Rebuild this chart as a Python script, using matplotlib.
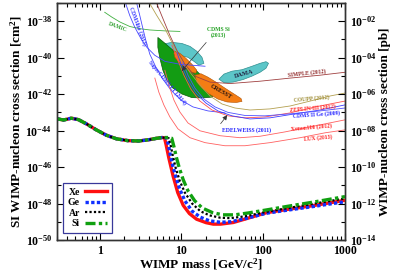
import numpy as np
import matplotlib
matplotlib.use('Agg')
import matplotlib.pyplot as plt
from matplotlib.ticker import FixedLocator, NullFormatter, LogLocator

plt.rcParams['font.family'] = ['Liberation Serif', 'DejaVu Serif']
plt.rcParams['font.weight'] = 'bold'
plt.rcParams['axes.labelweight'] = 'bold'
plt.rcParams['mathtext.fontset'] = 'custom'
plt.rcParams['mathtext.rm'] = 'Liberation Serif:bold'
plt.rcParams['mathtext.it'] = 'Liberation Serif:italic:bold'
plt.rcParams['mathtext.bf'] = 'Liberation Serif:bold'
plt.rcParams['mathtext.default'] = 'rm'

# neutrino discovery limits (mass in GeV, log10 cross section in cm^2)
xe_m = [0.3, 0.36, 0.45, 0.55, 0.7, 0.9, 1.2, 1.6, 2.2, 3.0, 4.0, 5.0, 5.8, 6.2, 6.5, 7.0, 7.9, 9.0,
        10.5, 12.5, 15.3, 20, 24.5, 30, 43, 60, 110, 200, 400, 1000]
xe_s = [-43.35, -43.42, -43.32, -43.4, -43.65, -43.95, -44.25, -44.45, -44.55, -44.57, -44.5, -44.42,
        -44.38, -44.4, -44.8, -45.5, -46.5, -47.4, -48.1, -48.55, -48.86, -49.05, -49.13, -49.13,
        -49.04, -48.85, -48.5, -48.32, -48.12, -47.82]
ge_m = [0.3, 0.36, 0.45, 0.55, 0.7, 0.9, 1.2, 1.6, 2.2, 3.0, 4.0, 5.0, 5.8, 6.6, 6.9, 7.3, 7.9, 8.6,
        9.5, 11, 13.5, 17, 22, 30, 40, 60, 110, 200, 400, 1000]
ge_s = [-43.35, -43.42, -43.32, -43.4, -43.65, -43.95, -44.25, -44.45, -44.55, -44.57, -44.5, -44.42,
        -44.38, -44.4, -44.75, -45.35, -46.0, -46.6, -47.2, -47.85, -48.42, -48.75, -48.95, -49.03,
        -49.0, -48.83, -48.53, -48.36, -48.17, -47.9]
ar_m = [0.3, 0.36, 0.45, 0.55, 0.7, 0.9, 1.2, 1.6, 2.2, 3.0, 4.0, 5.0, 5.8, 7.0, 7.4, 7.9, 8.5, 9.5,
        11, 13.5, 17, 22, 30, 40, 60, 110, 200, 400, 1000]
ar_s = [-43.35, -43.42, -43.32, -43.4, -43.65, -43.95, -44.25, -44.45, -44.55, -44.57, -44.5, -44.42,
        -44.38, -44.42, -44.85, -45.45, -46.05, -46.75, -47.4, -48.0, -48.42, -48.65, -48.78, -48.8,
        -48.7, -48.45, -48.25, -48.02, -47.72]
si_m = [0.3, 0.36, 0.45, 0.55, 0.7, 0.9, 1.2, 1.6, 2.2, 3.0, 4.0, 5.0, 5.8, 7.0, 7.6, 8.1, 8.7, 9.4,
        10.5, 12, 14.5, 18, 24, 32, 45, 65, 110, 200, 400, 1000]
si_s = [-43.35, -43.42, -43.32, -43.4, -43.65, -43.95, -44.25, -44.45, -44.55, -44.57, -44.5, -44.42,
        -44.38, -44.38, -44.42, -44.9, -45.5, -46.05, -46.7, -47.3, -47.85, -48.25, -48.5, -48.62,
        -48.62, -48.52, -48.35, -48.15, -47.93, -47.62]

# experimental limits
damic_m = [1.15, 1.40, 1.76, 2.33, 3.09, 4.10, 6.26, 9.56]
damic_s = [-37.51, -37.77, -38.04, -38.29, -38.41, -38.48, -38.53, -38.56]
cdmslite_m = [2.08, 2.33, 2.69, 3.18, 3.77, 4.72, 6.26, 9.56, 19.4]
cdmslite_s = [-37.04, -37.69, -38.34, -38.94, -39.43, -39.87, -40.20, -40.36, -40.47]
scdms_m = [2.84, 3.09, 3.37, 3.66, 4.10, 4.86, 5.92, 7.42, 9.83, 13.8, 21.1, 34.0]
scdms_s = [-37.04, -37.69, -38.40, -39.05, -39.81, -40.52, -41.18, -41.78, -42.32, -42.70, -42.92, -43.03]
coupp_m = [4.10, 4.99, 6.26, 7.63, 9.56, 12.7, 16.8, 22.3, 31.3, 45.1, 68.9, 121, 213, 375, 659, 1000]
coupp_s = [-37.04, -37.69, -38.40, -39.16, -39.98, -40.80, -41.50, -42.10, -42.54, -42.76, -42.87,
           -42.81, -42.65, -42.38, -42.10, -41.94]
simple_m = [4.99, 5.92, 7.21, 8.78, 11.0, 14.6, 22.3, 39.2, 91.4, 213, 497, 1000]
simple_s = [-37.04, -37.85, -38.78, -39.60, -40.36, -41.01, -41.34, -41.42, -41.29, -41.12, -40.96, -40.80]
zeplin_m = [7.63, 9.03, 10.7, 13.0, 16.8, 23.6, 37.0, 59.8, 105, 213, 431, 1000]
zeplin_s = [-39.32, -40.14, -40.96, -41.72, -42.38, -42.87, -43.19, -43.30, -43.25, -43.03, -42.70, -42.38]
cdmsge_m = [8.78, 10.1, 12.0, 15.0, 19.9, 27.9, 41.5, 68.9, 121, 245, 497, 1000]
cdmsge_s = [-39.71, -40.47, -41.23, -41.94, -42.49, -42.92, -43.19, -43.36, -43.30, -43.08, -42.87, -42.59]
edw_m = [10.4, 12.0, 14.6, 18.8, 25.7, 37.0, 59.8, 105, 213, 497, 1000]
edw_s = [-40.25, -40.96, -41.67, -42.27, -42.70, -43.00, -43.17, -43.19, -43.08, -42.92, -42.76]
xenon_m = [6.26, 7.01, 8.07, 9.56, 12.0, 16.8, 29.6, 52.0, 91.4, 185, 431, 1000]
xenon_s = [-40.69, -41.50, -42.32, -42.98, -43.58, -44.01, -44.28, -44.39, -44.31, -44.07, -43.74, -43.41]
lux_m = [4.72, 5.28, 6.08, 7.21, 9.03, 12.7, 19.4, 34.0, 59.8, 121, 282, 572, 1000]
lux_s = [-41.12, -41.89, -42.59, -43.25, -43.90, -44.39, -44.66, -44.83, -44.83, -44.66, -44.39, -44.12, -43.96]

# signal regions
dama_m = [28.7, 33.1, 41.5, 55.0, 72.9, 91.4, 108, 116, 108, 91.4, 72.9, 56.6, 42.7, 33.1]
dama_s = [-41.18, -40.90, -40.74, -40.66, -40.47, -40.31, -40.22, -40.31, -40.58, -40.80, -41.01,
          -41.20, -41.34, -41.37]
dama_low_m = [5.75, 7.63, 10.1, 12.7, 15.4, 17.8, 18.8, 16.3, 14.2, 12.0, 9.56, 7.63, 6.26]
dama_low_s = [-39.27, -39.16, -39.22, -39.38, -39.65, -39.98, -40.31, -40.41, -40.20, -39.98, -39.87,
              -39.76, -39.60]
cdmssi_m = [5.14, 6.08, 7.63, 9.56, 12.0, 15.0, 18.8, 22.9, 25.7, 23.6, 18.3, 13.4, 10.1, 7.85, 6.62,
            5.92, 5.44, 5.14]
cdmssi_s = [-38.89, -39.16, -39.54, -39.92, -40.31, -40.69, -41.12, -41.56, -41.94, -42.16, -42.21,
            -42.19, -41.99, -41.67, -41.23, -40.69, -40.03, -39.43]
cresst1_m = [8.30, 9.56, 11.3, 13.4, 15.4, 15.0, 13.0, 11.0, 9.29, 8.30, 8.07]
cresst1_s = [-39.65, -39.76, -40.03, -40.36, -40.69, -40.85, -40.80, -40.52, -40.25, -39.98, -39.76]
cresst2_m = [14.6, 17.3, 21.1, 26.4, 34.0, 43.9, 53.5, 55.0, 46.4, 36.0, 27.9, 21.7, 17.8, 15.4]
cresst2_s = [-40.96, -40.88, -41.07, -41.34, -41.67, -41.99, -42.24, -42.40, -42.46, -42.43, -42.27,
             -41.99, -41.67, -41.34]


def sig(s):
    return 10.0 ** np.array(s)


fig = plt.figure(figsize=(3.95, 2.71), dpi=100)
ax = fig.add_axes([0.1443, 0.1144, 0.7291, 0.8746])
ax.set_xscale('log')
ax.set_yscale('log')

ax.fill(dama_m, sig(dama_s), facecolor='#5cc6c8', edgecolor='#2f8f90', lw=0.5, zorder=1)
ax.fill(dama_low_m, sig(dama_low_s), facecolor='#5cc6c8', edgecolor='#2f8f90', lw=0.5, zorder=1)
ax.fill(cdmssi_m, sig(cdmssi_s), facecolor='#139c13', edgecolor='#0a5a0a', lw=0.5, zorder=1)
ax.fill(cresst1_m, sig(cresst1_s), facecolor='#f47d14', edgecolor='#b05000', lw=0.4, zorder=1.5)
ax.fill(cresst2_m, sig(cresst2_s), facecolor='#f47d14', edgecolor='#b05000', lw=0.4, zorder=1.5)

lw = 0.6
ax.plot(damic_m, sig(damic_s), color='#40b040', lw=lw, zorder=2)
ax.plot(cdmslite_m, sig(cdmslite_s), color='#4848ff', lw=lw, zorder=2)
ax.plot(scdms_m, sig(scdms_s), color='#4848ff', lw=lw, zorder=2)
ax.plot(coupp_m, sig(coupp_s), color='#b4a050', lw=lw, zorder=2)
ax.plot(simple_m, sig(simple_s), color='#a04040', lw=lw, zorder=2)
ax.plot(zeplin_m, sig(zeplin_s), color='#ff5050', lw=lw, zorder=2)
ax.plot(cdmsge_m, sig(cdmsge_s), color='#3c3cff', lw=lw, zorder=2)
ax.plot(edw_m, sig(edw_s), color='#5050ff', lw=lw, zorder=2)
ax.plot(xenon_m, sig(xenon_s), color='#ff6060', lw=lw, zorder=2)
ax.plot(lux_m, sig(lux_s), color='#ff6060', lw=lw, zorder=2)

# labels on curves
fs = 4.1
ax.text(1.66, 10**-38.34, 'DAMIC', color='#30a030', fontsize=fs, rotation=-20, ha='center', va='center')
ax.text(2.95, 10**-38.29, 'CDMSlite (2013)', color='#3030ff', fontsize=fs, rotation=-70, ha='center', va='center')
ax.text(6.62, 10**-41.34, 'SuperCDMS LT (2014)', color='#3030ff', fontsize=fs, rotation=-50, ha='center', va='center')
ax.text(27.9, 10**-38.62, 'CDMS Si\n(2013)', color='#20a020', fontsize=fs, ha='center', va='center', linespacing=0.9)
ax.text(58.2, 10**-40.90, 'DAMA', color='#202040', fontsize=4.6, rotation=15, ha='center', va='center')
ax.text(30.4, 10**-41.89, 'CRESST', color='#201010', fontsize=4.6, rotation=-30, ha='center', va='center')
ax.text(344, 10**-40.85, 'SIMPLE (2012)', color='#902828', fontsize=fs, rotation=6, ha='center', va='center')
ax.text(385, 10**-42.27, 'COUPP (2012)', color='#9c8a30', fontsize=fs, rotation=5, ha='center', va='center')
ax.text(396, 10**-42.76, 'ZEPLIN-III (2012)', color='#ff2020', fontsize=fs, rotation=5, ha='center', va='center')
ax.text(444, 10**-43.14, 'CDMS II Ge (2009)', color='#2020ff', fontsize=fs, rotation=4, ha='center', va='center')
ax.text(61.6, 10**-43.98, 'EDELWEISS (2011)', color='#2020ff', fontsize=fs, ha='center', va='center')
ax.text(385, 10**-43.82, 'Xenon100 (2012)', color='#ff2020', fontsize=fs, rotation=5, ha='center', va='center')
ax.text(469, 10**-44.39, 'LUX (2013)', color='#ff2020', fontsize=fs, rotation=5, ha='center', va='center')

ax.annotate('', xy=(9.56, 10**-40.85), xytext=(21.1, 10**-39.05),
            arrowprops=dict(arrowstyle='-|>', color='#333333', lw=0.5, mutation_scale=7), zorder=3)
ax.annotate('', xy=(38.1, 10**-43.03), xytext=(28.7, 10**-43.74),
            arrowprops=dict(arrowstyle='-|>', color='#333333', lw=0.5, mutation_scale=7), zorder=3)

# neutrino floors
ax.plot(xe_m, sig(xe_s), color='#ff1010', lw=2.4, label='Xe', zorder=5)
ax.plot(ge_m, sig(ge_s), color='#1030ff', lw=2.4, dashes=(1, 0.7), label='Ge', zorder=6)
ax.plot(ar_m, sig(ar_s), color='black', lw=1.6, dashes=(1, 1), label='Ar', zorder=7)
ax.plot(si_m, sig(si_s), color='#10a010', lw=2.4, dashes=(3, 1, 1, 1), label='Si', zorder=8)

ax.set_xlim(0.3, 1000)
ax.set_ylim(1e-50, 1e-37)

ax.xaxis.set_major_locator(FixedLocator([1, 10, 100, 1000]))
ax.set_xticklabels(['1', '10', '100', '1000'], fontweight='bold')
ax.xaxis.set_minor_locator(LogLocator(base=10, subs=np.arange(2, 10)))
ax.xaxis.set_minor_formatter(NullFormatter())

ax.yaxis.set_major_locator(FixedLocator(10.0 ** np.arange(-50, -37, 2)))
ax.set_yticklabels([r'$10^{%d}$' % e for e in range(-50, -37, 2)])
ax.yaxis.set_minor_locator(FixedLocator(10.0 ** np.arange(-49, -36, 2)))
ax.yaxis.set_minor_formatter(NullFormatter())

ax.tick_params(which='both', direction='in', top=True, right=False, labelsize=8.5, width=0.8)
ax.tick_params(which='major', length=5)
ax.tick_params(which='minor', length=2.8)

ax2 = ax.twinx()
ax2.set_yscale('log')
ax2.set_ylim(1e-14, 1e-1)
ax2.yaxis.set_major_locator(FixedLocator(10.0 ** np.arange(-14, -1, 2)))
ax2.set_yticklabels([r'$10^{-%02d}$' % -e for e in range(-14, -1, 2)])
ax2.yaxis.set_minor_locator(FixedLocator(10.0 ** np.arange(-13, 0, 2)))
ax2.yaxis.set_minor_formatter(NullFormatter())
ax2.tick_params(which='both', direction='in', labelsize=8.5, width=0.8)
ax2.tick_params(which='major', length=5)
ax2.tick_params(which='minor', length=2.8)

for a in (ax, ax2):
    for sp in a.spines.values():
        sp.set_linewidth(1.0)
        sp.set_color('#333333')

ax.set_xlabel(r'WIMP mass [GeV/c$^2$]', fontsize=9.5, fontweight='bold', labelpad=0)
ax.set_ylabel(r'SI WIMP-nucleon cross section [cm$^2$]', fontsize=9.5, fontweight='bold', labelpad=1)
ax2.set_ylabel('WIMP-nucleon cross section [pb]', fontsize=9.5, fontweight='bold', labelpad=2)

leg = ax.legend(loc='lower left', bbox_to_anchor=(0.021, 0.03), borderaxespad=0,
                prop={'size': 7, 'weight': 'bold'},
                markerfirst=False, handlelength=2.3, labelspacing=0.15, handletextpad=0.5,
                borderpad=0.5, fancybox=False, framealpha=1)
leg.get_frame().set_edgecolor('#38389a')
leg.get_frame().set_linewidth(0.9)
leg.set_zorder(20)

fig.savefig('out.png', dpi=100)
